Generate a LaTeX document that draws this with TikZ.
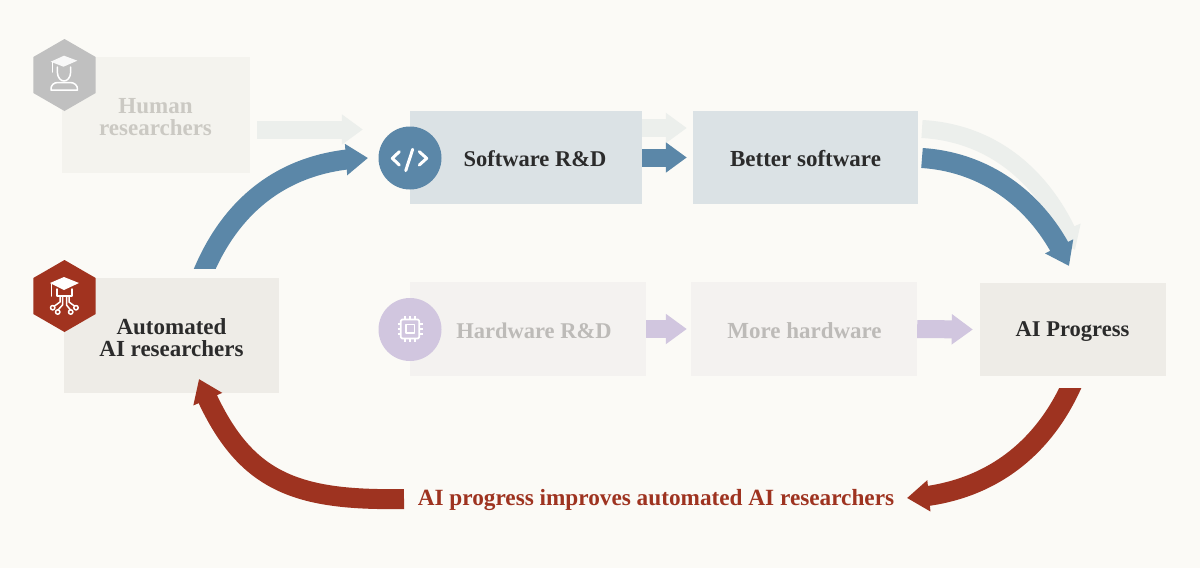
\documentclass[tikz,border=0pt]{standalone}
\usepackage{fontspec}
\setmainfont{Liberation Serif}
\usetikzlibrary{arrows.meta,bending,shapes.geometric}
\definecolor{bgc}{HTML}{FBFAF6}
\definecolor{ink}{HTML}{2B2B2B}
\definecolor{fadeink}{HTML}{CBC9C3}
\definecolor{hwink}{HTML}{BDBBB8}
\definecolor{blueA}{HTML}{5B87A8}
\definecolor{paleA}{HTML}{ECEFEC}
\definecolor{purpA}{HTML}{D1C6DF}
\definecolor{redA}{HTML}{9E3320}
\definecolor{redH}{HTML}{A1331F}
\definecolor{grayH}{HTML}{C0C0C0}
\definecolor{boxH}{HTML}{F4F3EE}
\definecolor{boxA}{HTML}{EEECE7}
\definecolor{boxS}{HTML}{DBE2E5}
\definecolor{boxW}{HTML}{F4F2F0}
\newcommand{\lbl}{\fontsize{23}{22}\selectfont\bfseries}
\newcommand{\lbs}{\fontsize{22.5}{22}\selectfont\bfseries}
\newcommand{\lbc}{\fontsize{23.25}{22}\selectfont\bfseries}
\tikzset{
  card/.style={inner sep=0pt,align=center,font=\lbl,text=ink},
  txt/.style={inner sep=0pt,align=center,font=\lbl,text=ink},
  tipA/.style={-{Triangle[length=21pt,width=29pt]}},
  tipB/.style={-{Triangle[length=22pt,width=30pt]}},
  bluearrow/.style={draw=blueA,line width=18pt,tipA},
  palearrow/.style={draw=paleA,line width=18pt,tipA},
  purparrow/.style={draw=purpA,line width=18pt,tipA},
  bluecurve/.style={draw=blueA,line width=20pt,tipB},
  palecurve/.style={draw=paleA,line width=18pt,tipB},
  redarrow/.style={draw=redA,line width=20pt,tipB},
  hexbadge/.style={regular polygon,regular polygon sides=6,shape border rotate=30,minimum size=72pt,inner sep=0pt},
  roundbadge/.style={circle,minimum size=63pt,inner sep=0pt},
  iconline/.style={draw=white,line width=1.5pt,line cap=round,line join=round},
}
\begin{document}
\begin{tikzpicture}[x=1pt,y=-1pt]
\useasboundingbox (0,0) rectangle (1200,568);
\fill[bgc] (0,0) rectangle (1200,568);

% boxes
\node[card,fill=boxH,minimum width=188pt,minimum height=116pt] (human) at (156,115) {};
\node[card,fill=boxA,minimum width=215pt,minimum height=115pt] (auto) at (171.5,335.5) {};
\node[card,fill=boxS,minimum width=232pt,minimum height=93pt] (sw) at (526,157.5) {};
\node[card,fill=boxS,minimum width=225pt,minimum height=93pt] (better) at (805.5,157.5) {};
\node[card,fill=boxW,minimum width=236pt,minimum height=94pt] (hw) at (528,329) {};
\node[card,fill=boxW,minimum width=226pt,minimum height=94pt] (more) at (804,329) {};
\node[card,fill=boxA,minimum width=186pt,minimum height=93pt] (prog) at (1073,329.5) {};

% labels
\node[txt,text=fadeink] (humant) at (155.5,117) {Human\\[0pt]researchers};
\node[txt] (autot) at (171.5,337.5) {Automated\\[0pt]AI researchers};
\node[txt,font=\lbs] (swt) at (535,159) {Software R\&D};
\node[txt] (bettert) at (805.5,159) {Better software};
\node[txt,font=\lbs,text=hwink] (hwt) at (534,331) {Hardware R\&D};
\node[txt,text=hwink] (moret) at (804.5,331) {More hardware};
\node[txt,font=\lbs] (progt) at (1072.5,331.5) {AI Progress};

% badges
\node[hexbadge,fill=grayH] (hexh) at (64.5,75) {};
\node[hexbadge,fill=redH] (hexa) at (64.5,296) {};
\node[roundbadge,fill=blueA] (cswb) at (410,158) {};
\node[roundbadge,fill=purpA] (chwb) at (410,329.5) {};

% named ends of the curved connectors
\coordinate (b1s) at (199,283);
\coordinate (b1e) at (368,158);
\coordinate (b2s) at (922,158);
\coordinate (b2e) at (1069,266);
\coordinate (p2s) at (922,129);
\coordinate (p2e) at (1075,250);
\coordinate (r1s) at (1076,375);
\coordinate (r1e) at (907,498);
\coordinate (r2s) at (404,499);
\coordinate (r2e) at (199,379);

% straight connectors
\draw[palearrow] ([xshift=7pt,yshift=-14.5pt]human.east) -- ([xshift=-47pt,yshift=28pt]sw.west);
\draw[palearrow] ([yshift=29.5pt]sw.east) -- ([xshift=-6pt,yshift=29.5pt]better.west);
\draw[bluearrow] (sw.east) -- ([xshift=-6pt]better.west);
\draw[purparrow] (hw.east) -- ([xshift=-4pt]more.west);
\draw[purparrow] (more.east) -- ([xshift=-7pt]prog.west);

% curved connectors
\draw[palecurve] (p2s) .. controls (995,133) and (1048,180) .. (p2e);
\draw[bluecurve] (b2s) .. controls (985,162) and (1040,200) .. (b2e);
\begin{scope}
  \clip (0,0) rectangle (1200,268);
  \draw[bluecurve] (b1s) .. controls (228,205) and (285,160) .. (b1e);
\end{scope}
\begin{scope}
  \clip (0,388) rectangle (1200,568);
  \draw[redarrow] (r1s) .. controls (1045,452) and (985,494) .. (r1e);
\end{scope}
\draw[redarrow] (r2s) .. controls (290,501) and (240,480) .. (r2e);

\node[txt,font=\lbc,text=redA] (caption) at (656,500) {AI progress improves automated AI researchers};

% human icon
\begin{scope}[iconline]
  \fill[white,opacity=.9] (50.7,61.7) -- (64,55.7) -- (77.3,60.7) -- (63.5,66.7) -- cycle;
  \draw (52.3,62) -- (52.3,72);
  \draw (57.3,67) -- (57.3,72) .. controls (57.5,78) and (61,81) .. (64,81) .. controls (67,81) and (70.5,78) .. (70.7,72) -- (70.7,67);
  \draw (51,90) -- (77.5,90) .. controls (78,85) and (74,82.5) .. (70,82.5) -- (58,82.5) .. controls (54,82.5) and (50.5,85) .. (51,90) -- cycle;
\end{scope}
% automated icon
\begin{scope}[iconline]
  \fill[white] (50,283) -- (64,277) -- (79,283) -- (64,290) -- cycle;
  \draw (51.7,284) -- (51.7,296);
  \draw (57,289) -- (57,296) -- (72,296) -- (72,289);
  \draw (60,297) -- (60,302) -- (54.5,306);
  \draw (62.5,297) -- (62.5,305) -- (58,310);
  \draw (66.5,297) -- (66.5,305) -- (70.5,310);
  \draw (69,297) -- (69,302) -- (74.5,306);
  \draw (52.7,307.7) circle (2.2);
  \draw (57.7,312) circle (2.2);
  \draw (70.7,312) circle (2.2);
  \draw (76,307.7) circle (2.2);
\end{scope}
% code icon
\begin{scope}[iconline,line width=3pt]
  \draw (399.3,151.7) -- (392.3,158.3) -- (399.3,165);
  \draw (419.3,151.7) -- (426.7,158.3) -- (419.3,165);
  \draw (412.7,149.3) -- (405.7,170.7);
\end{scope}
% chip icon
\begin{scope}[iconline,line cap=butt]
  \draw[rounded corners=1.5pt,line width=1.8pt] (400.7,319.5) rectangle (419.3,338.5);
  \draw[line width=1.5pt] (406,324.7) rectangle (414.3,333.2);
  \foreach \t in {-5,0,5} {
    \draw (410+\t,316) -- (410+\t,319);
    \draw (410+\t,339) -- (410+\t,342);
    \draw (397.5,329+\t) -- (400.5,329+\t);
    \draw (419.5,329+\t) -- (422.5,329+\t);
  }
\end{scope}
\end{tikzpicture}
\end{document}
